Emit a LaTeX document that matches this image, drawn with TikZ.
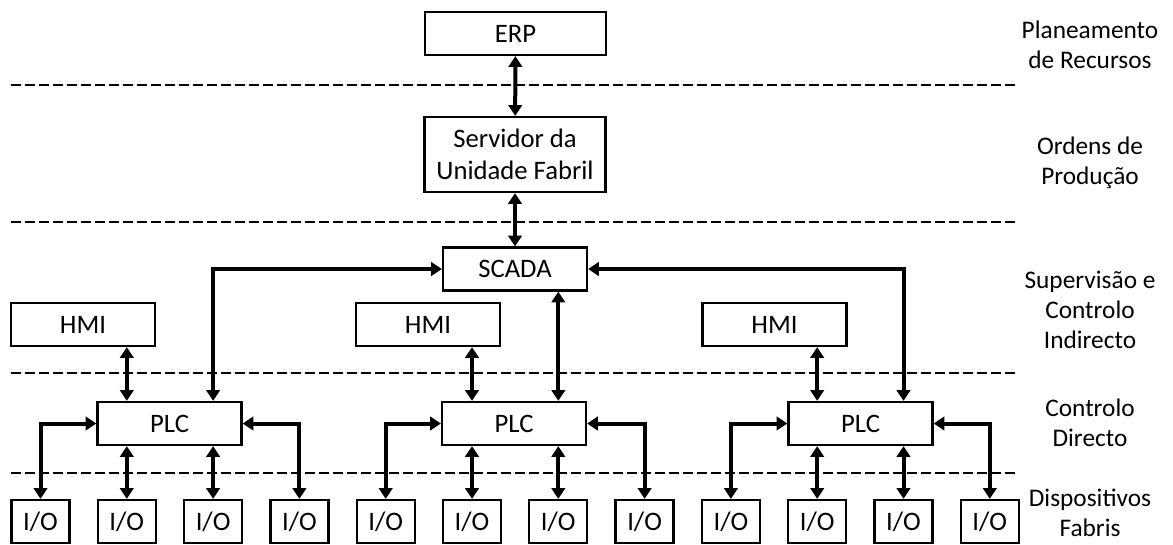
\documentclass[tikz,border=0pt]{standalone}
\usepackage{fontspec}
\setmainfont{Carlito}
\usetikzlibrary{arrows.meta}
\begin{document}
\begin{tikzpicture}[x=0.75pt,y=-0.75pt,
  box/.style={draw=black,line width=1.7pt,fill=white,rectangle,inner sep=0pt,
    minimum width=144*0.75pt,minimum height=43*0.75pt,
    font=\fontsize{20pt}{24pt}\selectfont},
  wide/.style={minimum width=181*0.75pt},
  iobox/.style={box,minimum width=58*0.75pt},
  conn/.style={line width=3pt,{Triangle[length=8pt,width=10pt]}-{Triangle[length=8pt,width=10pt]}},
  layer/.style={dash pattern=on 7.5pt off 3pt,line width=2pt},
  level/.style={align=center,font=\fontsize{19pt}{22.5pt}\selectfont}]
\useasboundingbox (0,0) rectangle (1173,545);

% layer separators
\foreach \y in {85,222,373,473}
  \draw[layer] (11,\y) -- (1015,\y);

% boxes
\node[box,wide] (erp) at (515.5,33.5) {ERP};
\node[box,wide,minimum height=75*0.75pt,align=center] (srv) at (515,154.5) {Servidor da\\Unidade Fabril};
\node[box] (scada) at (515,269) {SCADA};
\node[box] (hmi1) at (83,324.5) {HMI};
\node[box] (hmi2) at (428,324.5) {HMI};
\node[box] (hmi3) at (774.5,324.5) {HMI};
\node[box] (plc1) at (169.5,423.5) {PLC};
\node[box] (plc2) at (514,423.5) {PLC};
\node[box] (plc3) at (860.5,423.5) {PLC};
\foreach \i in {1,...,12}
  \node[iobox] (io\i) at ({40.5+86.3*(\i-1)},521.5) {I/O};

% upper links
\draw[conn] (erp) -- (srv);
\draw[conn] (srv) -- (scada);
\draw[conn] (scada.west) -| (io3 |- plc1.north);
\draw[conn] (io7 |- scada.south) -- (io7 |- plc2.north);
\draw[conn] (scada.east) -| (io11 |- plc3.north);

% HMI links
\draw[conn] (io2 |- hmi1.south) -- (io2 |- plc1.north);
\draw[conn] (io6 |- hmi2.south) -- (io6 |- plc2.north);
\draw[conn] (io10 |- hmi3.south) -- (io10 |- plc3.north);

% field links
\draw[conn] (plc1.west) -| (io1.north);
\draw[conn] (io2 |- plc1.south) -- (io2.north);
\draw[conn] (io3 |- plc1.south) -- (io3.north);
\draw[conn] (plc1.east) -| (io4.north);
\draw[conn] (plc2.west) -| (io5.north);
\draw[conn] (io6 |- plc2.south) -- (io6.north);
\draw[conn] (io7 |- plc2.south) -- (io7.north);
\draw[conn] (plc2.east) -| (io8.north);
\draw[conn] (plc3.west) -| (io9.north);
\draw[conn] (io10 |- plc3.south) -- (io10.north);
\draw[conn] (io11 |- plc3.south) -- (io11.north);
\draw[conn] (plc3.east) -| (io12.north);

% level names
\node[level] (l1) at (1090,45) {Planeamento\\de Recursos};
\node[level] (l2) at (1090,162.5) {Ordens de\\Produção};
\node[level] (l3) at (1090,310) {Supervisão e\\Controlo\\Indirecto};
\node[level] (l4) at (1090,423) {Controlo\\Directo};
\node[level] (l5) at (1090,512.5) {Dispositivos\\Fabris};
\end{tikzpicture}
\end{document}
